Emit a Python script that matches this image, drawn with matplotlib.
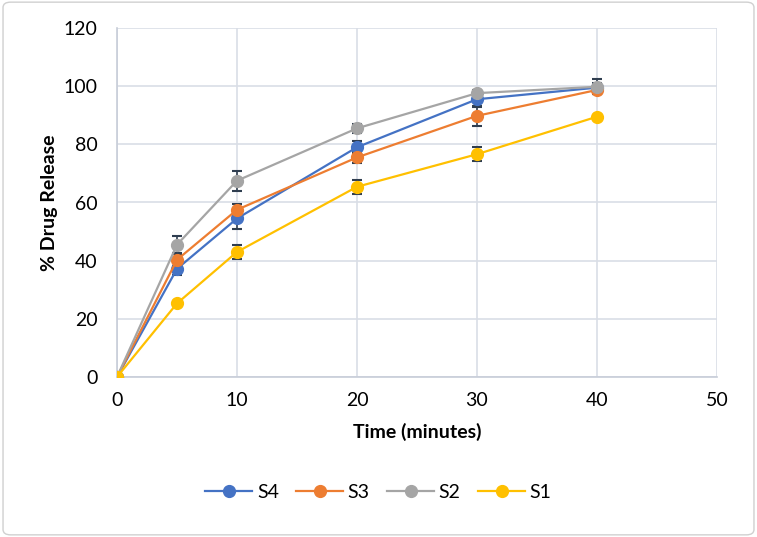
import matplotlib.pyplot as plt
from matplotlib.patches import FancyBboxPatch

plt.rcParams['font.family'] = ['Lato', 'DejaVu Sans']

time_min = [0, 5, 10, 20, 30, 40]
s4 = [0, 37.2, 54.5, 79.0, 95.5, 99.5]
s3 = [0, 40.3, 57.5, 75.5, 89.8, 98.7]
s2 = [0, 45.5, 67.5, 85.5, 97.6, 99.8]
s1 = [0, 25.3, 43.0, 65.4, 76.6, 89.5]
s4_err = [0, 2.0, 3.5, 2.0, 2.5, 1.5]
s3_err = [0, 2.0, 2.0, 2.0, 3.5, 1.5]
s2_err = [0, 3.0, 3.5, 1.5, 1.0, 2.5]
s1_err = [0, 0.8, 2.5, 2.5, 2.5, 0.5]

names = ['S4', 'S3', 'S2', 'S1']
colors = ['#4472c4', '#ed7d31', '#a5a5a5', '#ffc000']
series = [s4, s3, s2, s1]
errors = [s4_err, s3_err, s2_err, s1_err]

fig = plt.figure(figsize=(7.57, 5.37), dpi=100)
ax = fig.add_axes([117 / 757, 1 - 377 / 537, 600 / 757, 349 / 537])

border = FancyBboxPatch((0.004, 0.004), 0.992, 0.992, boxstyle='round,pad=0,rounding_size=0.01',
                        transform=fig.transFigure, facecolor='none', edgecolor='#d0d0d0', linewidth=1)
fig.patches.append(border)

for name, color, ys, err in zip(names, colors, series, errors):
    ax.errorbar(time_min, ys, yerr=err, color=color, marker='o', markersize=8.5, linewidth=1.6,
                ecolor='#2f3e50', elinewidth=1.2, capsize=3.5, capthick=1.5, label=name, zorder=3)

ax.set_xlim(0, 50)
ax.set_ylim(0, 120)
ax.set_xticks(range(0, 51, 10))
ax.set_yticks(range(0, 121, 20))
ax.grid(True, color='#d9dee6', linewidth=1.2)
ax.set_axisbelow(True)
for side in ['top', 'right']:
    ax.spines[side].set_visible(False)
for side in ['left', 'bottom']:
    ax.spines[side].set_color('#c7cdd8')
    ax.spines[side].set_linewidth(1.2)
ax.tick_params(axis='y', length=0, labelsize=14, pad=14, colors='#000000')
ax.tick_params(axis='x', length=0, labelsize=14, pad=11, colors='#000000')
ax.set_xlabel('Time (minutes)', fontsize=14, fontweight='bold', labelpad=10)
ax.set_ylabel('% Drug Release', fontsize=14, fontweight='bold', labelpad=4)

handles, labels = ax.get_legend_handles_labels()
handles = [h[0] for h in handles]
fig.legend(handles, labels, loc='center', bbox_to_anchor=(0.5, 1 - 492 / 537), ncol=4, frameon=False,
           fontsize=14, handlelength=2.4, columnspacing=0.9, handletextpad=0.25)

fig.savefig('out.png', dpi=100)
